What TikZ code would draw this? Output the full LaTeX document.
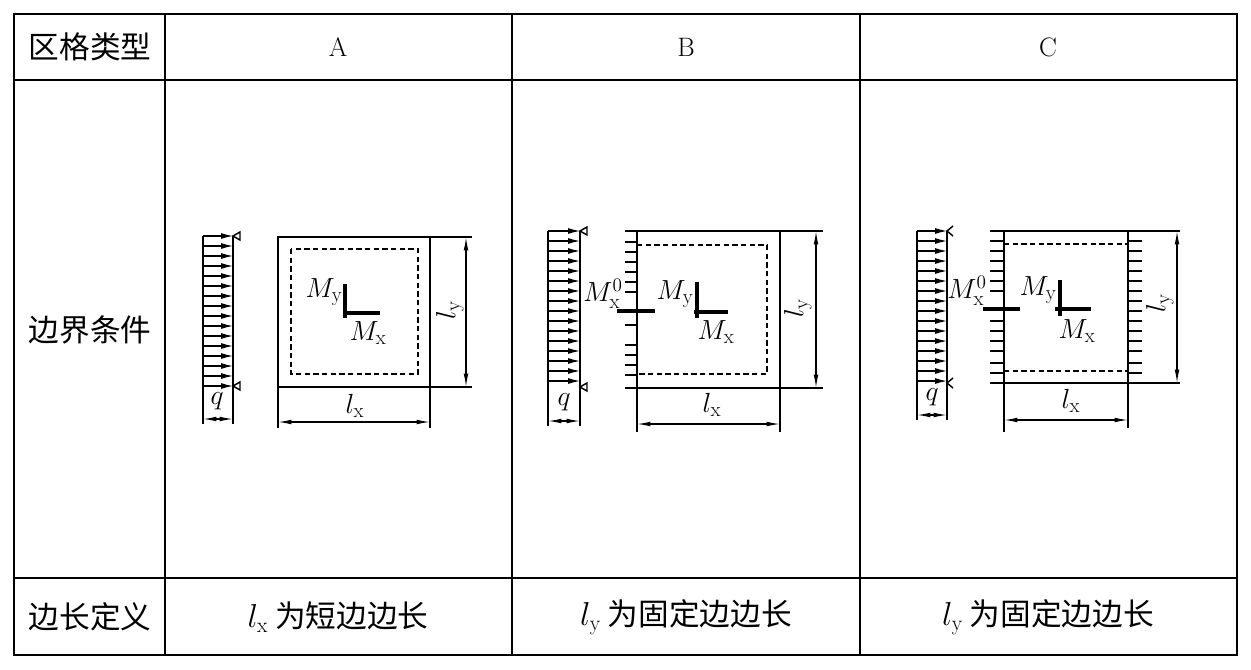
\documentclass[tikz,border=0pt]{standalone}
\usepackage{fontspec}
\newfontfamily\cjk{Noto Sans CJK SC}
\usetikzlibrary{arrows.meta}
\tikzset{every picture/.style={line width=1.1pt}}
\tikzset{
  txt/.style={inner sep=0.75pt,font=\cjk\fontsize{23}{23}\selectfont},
  lbl/.style={inner sep=0pt,font=\fontsize{22}{22}\selectfont},
  hlbl/.style={inner sep=0.75pt,font=\fontsize{20}{20}\selectfont},
  dim/.style={line width=0.9pt,{Latex[length=10pt,width=3.5pt]}-{Latex[length=10pt,width=3.5pt]}},
  load/.style={line width=0.9pt,-{Latex[length=9pt,width=4.5pt]}},
  mline/.style={line width=2.6pt},
  dsh/.style={dash pattern=on 4pt off 2.5pt},
}
\begin{document}
\begin{tikzpicture}[x=0.75pt,y=0.75pt,yscale=-1,xscale=1]
\useasboundingbox (0,0) rectangle (1251,669);

%Table
\draw [line width=2pt] (14,14) rectangle (1237,655);
\draw (165,14) -- (165,655) (512,14) -- (512,655) (860,14) -- (860,655);
\draw (14,80) -- (1237,80) (14,578) -- (1237,578);

% Text Node
\node [txt] (hd) at (90,47) {区格类型};
\node [txt] (bc) at (90,330) {边界条件};
\node [txt] (df) at (90,617) {边长定义};
\node [hlbl] (ta) at (338,47) {A};
\node [hlbl] (tb) at (686,47) {B};
\node [hlbl] (tc) at (1048,47) {C};
\node [txt] (da) at (338,617) {$l_{\mathrm{x}}$ 为短边边长};
\node [txt] (db) at (686,617) {$l_{\mathrm{y}}$ 为固定边边长};
\node [txt] (dc) at (1048,617) {$l_{\mathrm{y}}$ 为固定边边长};

%Panel A: load
\draw (203,236) -- (203,424) (233,236) -- (233,424);
\foreach \y in {236,246,...,386} \draw [load] (203,\y) -- (233,\y);
\draw (233,236) -- (240,232) -- (240,240) -- cycle;
\draw (233,386) -- (240,382) -- (240,390) -- cycle;
\draw [dim] (203,419) -- (233,419);
\node [lbl] (qa) at (217,401) {$q$};
%Panel A: slab
\draw (278,237) rectangle (430,387);
\draw [dsh] (291,249) rectangle (418,374);
\draw (430,237) -- (472,237) (430,387) -- (472,387);
\draw (278,387) -- (278,428) (430,387) -- (430,428);
\draw [dim] (278,422) -- (430,422);
\draw [dim] (466,237) -- (466,387);
\node [lbl] (lxa) at (355,406) {$l_{\mathrm{x}}$};
\node [lbl,rotate=90] (lya) at (450,310) {$l_{\mathrm{y}}$};
\draw [mline] (345,284) -- (345,318) (343,313) -- (380,313);
\node [lbl] (mya) at (324,292) {$M_{\mathrm{y}}$};
\node [lbl] (mxa) at (368,333) {$M_{\mathrm{x}}$};

%Panel B: load
\draw (548,231) -- (548,426) (580,231) -- (580,426);
\foreach \y in {231,241,...,381} \draw [load] (548,\y) -- (580,\y);
\draw (580,231) -- (587,227) -- (587,235) -- cycle;
\draw (580,387) -- (587,383) -- (587,391) -- cycle;
\draw [dim] (548,421) -- (580,421);
\node [lbl] (qb) at (564,402) {$q$};
%Panel B: slab
\draw (625,231) -- (823,231) (625,388) -- (823,388);
\draw (637,231) -- (637,432) (780,231) -- (780,432);
\foreach \y in {242,252,...,292,325,345,355,...,378} \draw (625,\y) -- (637,\y);
\draw [dsh] (637,245) -- (767,245) -- (767,374) -- (637,374);
\draw [dim] (637,424) -- (780,424);
\draw [dim] (816,231) -- (816,388);
\node [lbl] (lxb) at (712,405) {$l_{\mathrm{x}}$};
\node [lbl,rotate=90] (lyb) at (798,308) {$l_{\mathrm{y}}$};
\draw [mline] (617,311) -- (655,311);
\node [lbl] (m0b) at (603,294) {$M_{\mathrm{x}}^{0}$};
\draw [mline] (697,282) -- (697,318) (694,312) -- (728,312);
\node [lbl] (myb) at (675,294) {$M_{\mathrm{y}}$};
\node [lbl] (mxb) at (716,332) {$M_{\mathrm{x}}$};

%Panel C: load
\draw (917,231) -- (917,420) (947,231) -- (947,420);
\foreach \y in {231,241,...,381} \draw [load] (917,\y) -- (947,\y);
\draw (953,226) -- (947,231) -- (953,236);
\draw (953,378) -- (947,383) -- (953,388);
\draw [dim] (917,415) -- (947,415);
\node [lbl] (qc) at (932,397) {$q$};
%Panel C: slab
\draw (990,231) -- (1180,231) (990,383) -- (1180,383);
\draw (1004,231) -- (1004,432) (1128,231) -- (1128,428);
\foreach \y in {241,251,...,291,321,331,...,351,363,373} \draw (990,\y) -- (1004,\y);
\foreach \y in {241,251,...,351,363,373} \draw (1128,\y) -- (1142,\y);
\draw [dsh] (1004,244) -- (1128,244) (1004,371) -- (1128,371);
\draw [dim] (1004,420) -- (1128,420);
\draw [dim] (1177,231) -- (1177,383);
\node [lbl] (lxc) at (1071,401) {$l_{\mathrm{x}}$};
\node [lbl,rotate=90] (lyc) at (1160,303) {$l_{\mathrm{y}}$};
\draw [mline] (983,309) -- (1020,309);
\node [lbl] (m0c) at (967,291) {$M_{\mathrm{x}}^{0}$};
\draw [mline] (1060,280) -- (1060,316) (1055,309) -- (1091,309);
\node [lbl] (myc) at (1038,290) {$M_{\mathrm{y}}$};
\node [lbl] (mxc) at (1077,331) {$M_{\mathrm{x}}$};
\end{tikzpicture}
\end{document}
